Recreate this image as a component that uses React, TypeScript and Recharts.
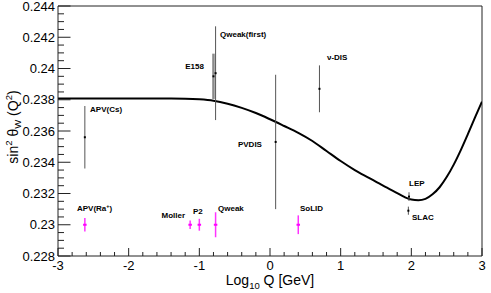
import React from "react";
import {
  ComposedChart,
  Line,
  Scatter,
  ErrorBar,
  XAxis,
  YAxis,
  ReferenceLine,
} from "recharts";

// ---------- data ----------
const curveLogQ = [-3, -2.5, -2, -1.6, -1.4, -1.2, -1.0, -0.8, -0.6, -0.4, -0.2, 0.0, 0.2, 0.4, 0.6, 0.8, 1.0, 1.2, 1.4, 1.6, 1.8, 1.9, 2.0, 2.1, 2.2, 2.3, 2.4, 2.5, 2.6, 2.7, 2.8, 2.9, 3.0];
const curveSin2 = [0.23808, 0.23808, 0.23808, 0.23808, 0.23808, 0.23807, 0.23803, 0.23794, 0.23775, 0.23748, 0.23715, 0.23675, 0.23632, 0.23588, 0.23536, 0.23472, 0.23408, 0.2335, 0.233, 0.2325, 0.23202, 0.23178, 0.23161, 0.23157, 0.23166, 0.23195, 0.2324, 0.23305, 0.23385, 0.23478, 0.2358, 0.23685, 0.23788];

const measuredNames = ["APV(Cs)", "Qweak(first)", "PVDIS", "ν-DIS", "LEP", "SLAC"];
const measuredLogQ = [-2.62, -0.77, 0.08, 0.7, 1.967, 1.958];
const measuredSin2 = [0.2356, 0.2397, 0.2353, 0.2387, 0.2318, 0.2309];
const measuredErr = [0.002, 0.003, 0.0043, 0.0015, 0.00028, 0.00026];

const e158Names = ["E158"];
const e158LogQ = [-0.8];
const e158Sin2 = [0.2395];
const e158Err = [0.00145];

const futureNames = ["APV(Ra+)", "Moller", "P2", "Qweak", "SoLID"];
const futureLogQ = [-2.62, -1.13, -1.0, -0.77, 0.4];
const futureSin2 = [0.23, 0.23, 0.23, 0.23, 0.23];
const futureErr = [0.00043, 0.00027, 0.00038, 0.0008, 0.0006];

const xMajorTicks = [-3, -2, -1, 0, 1, 2, 3];
const xMinorTicks = [-2.8, -2.6, -2.4, -2.2, -1.8, -1.6, -1.4, -1.2, -0.8, -0.6, -0.4, -0.2, 0.2, 0.4, 0.6, 0.8, 1.2, 1.4, 1.6, 1.8, 2.2, 2.4, 2.6, 2.8];
const yMajorTicks = [0.228, 0.23, 0.232, 0.234, 0.236, 0.238, 0.24, 0.242, 0.244];
const yMinorTicks = [0.2285, 0.229, 0.2295, 0.2305, 0.231, 0.2315, 0.2325, 0.233, 0.2335, 0.2345, 0.235, 0.2355, 0.2365, 0.237, 0.2375, 0.2385, 0.239, 0.2395, 0.2405, 0.241, 0.2415, 0.2425, 0.243, 0.2435];

// ---------- build tables ----------
const curveData = curveLogQ.map((x, i) => ({ x, y: curveSin2[i] }));
const build = (names: string[], xs: number[], ys: number[], es: number[]) =>
  names.map((name, i) => ({ name, x: xs[i], y: ys[i], err: es[i] }));
const measuredData = build(measuredNames, measuredLogQ, measuredSin2, measuredErr);
const e158Data = build(e158Names, e158LogQ, e158Sin2, e158Err);
const futureData = build(futureNames, futureLogQ, futureSin2, futureErr);

// ---------- styles ----------
const FONT = "'Liberation Sans', Arial, Helvetica, sans-serif";
const labelOffsets: Record<string, { dx: number; dy: number; anchor: "start" | "end" }> = {
  "APV(Cs)": { dx: 5.2, dy: -25.3, anchor: "start" },
  "Qweak(first)": { dx: 4.4, dy: -36.3, anchor: "start" },
  PVDIS: { dx: -13.7, dy: 5.3, anchor: "end" },
  "ν-DIS": { dx: 7.5, dy: -29.2, anchor: "start" },
  LEP: { dx: 0, dy: -10.4, anchor: "start" },
  SLAC: { dx: 3.6, dy: 9.5, anchor: "start" },
  E158: { dx: -9.5, dy: -7.4, anchor: "end" },
  "APV(Ra+)": { dx: -7.9, dy: -14.2, anchor: "start" },
  Moller: { dx: -5.1, dy: -6.9, anchor: "end" },
  P2: { dx: -6.3, dy: -10.9, anchor: "start" },
  Qweak: { dx: 2.4, dy: -13.6, anchor: "start" },
  SoLID: { dx: 1.7, dy: -13.6, anchor: "start" },
};

const renderLabelText = (name: string) => {
  if (name === "APV(Ra+)") {
    return (
      <>
        APV(Ra
        <tspan dy={-3} fontSize={5.5}>+</tspan>
        <tspan dy={3}>)</tspan>
      </>
    );
  }
  return name;
};

const makeShape = (color: string, w: number, h: number) => (props: any) => {
  const { cx, cy, payload } = props;
  if (cx == null || cy == null) return null;
  const off = labelOffsets[payload.name] || { dx: 4, dy: -6, anchor: "start" };
  return (
    <g>
      <rect x={cx - w / 2} y={cy - h / 2} width={w} height={h} fill={color} />
      <text
        x={cx + off.dx}
        y={cy + off.dy}
        textAnchor={off.anchor}
        fontFamily={FONT}
        fontWeight="bold"
        fontSize={8}
        fill="#000"
      >
        {renderLabelText(payload.name)}
      </text>
    </g>
  );
};

const yMajorSet = new Set(yMajorTicks.map((v) => v.toFixed(4)));
const xMajorSet = new Set(xMajorTicks.map((v) => v.toFixed(1)));

const YTick = (props: any) => {
  const { x, y, payload } = props;
  const major = yMajorSet.has(Number(payload.value).toFixed(4));
  return (
    <g>
      <line x1={x} x2={x + (major ? 12.5 : 6)} y1={y} y2={y} stroke="#222" strokeWidth={1} />
      {major && (
        <text x={x - 3} y={y + 4.6} textAnchor="end" fontFamily={FONT} fontSize={13} fill="#000">
          {String(payload.value)}
        </text>
      )}
    </g>
  );
};

const XTick = (props: any) => {
  const { x, y, payload } = props;
  const major = xMajorSet.has(Number(payload.value).toFixed(1));
  return (
    <g>
      <line x1={x} x2={x} y1={y} y2={y - (major ? 8 : 4)} stroke="#222" strokeWidth={1} />
      {major && (
        <text x={x} y={y + 13.5} textAnchor="middle" fontFamily={FONT} fontSize={13} fill="#000">
          {String(payload.value)}
        </text>
      )}
    </g>
  );
};

const XTitle = (props: any) => {
  const vb = props.viewBox || { x: 58, y: 256, width: 424, height: 37 };
  return (
    <text x={vb.x + vb.width / 2} y={vb.y + 29} textAnchor="middle" fontFamily={FONT} fontSize={14} fill="#000">
      Log
      <tspan dy={4} fontSize={9.5}>10</tspan>
      <tspan dy={-4}> Q [GeV]</tspan>
    </text>
  );
};

const YTitle = (props: any) => {
  const vb = props.viewBox || { x: 0, y: 6, width: 58, height: 250 };
  const cx = vb.x + 13;
  const cy = vb.y + vb.height / 2 - 4;
  return (
    <text
      x={cx}
      y={cy}
      transform={`rotate(-90 ${cx} ${cy})`}
      textAnchor="middle"
      dominantBaseline="central"
      fontFamily={FONT}
      fontSize={14}
      fill="#000"
    >
      sin
      <tspan dy={-5} fontSize={9.5}>2</tspan>
      <tspan dy={5}> θ</tspan>
      <tspan dy={3.5} fontSize={9.5}>W</tspan>
      <tspan dy={-3.5}> (Q</tspan>
      <tspan dy={-5} fontSize={9.5}>2</tspan>
      <tspan dy={5}>)</tspan>
    </text>
  );
};

export default function App() {
  return (
    <div style={{ position: "absolute", left: 0, top: 0, background: "#fff" }}>
      <ComposedChart
        width={491}
        height={293}
        margin={{ top: 6, right: 9, bottom: 0, left: 0 }}
      >
        <XAxis
          type="number"
          dataKey="x"
          domain={[-3, 3]}
          allowDataOverflow
          ticks={[...xMajorTicks, ...xMinorTicks]}
          interval={0}
          tickSize={0}
          tickMargin={0}
          tickLine={false}
          tick={<XTick />}
          axisLine={{ stroke: "#222", strokeWidth: 1 }}
          height={37}
          label={<XTitle />}
        />
        <YAxis
          type="number"
          dataKey="y"
          domain={[0.228, 0.244]}
          allowDataOverflow
          ticks={[...yMajorTicks, ...yMinorTicks]}
          interval={0}
          tickSize={0}
          tickMargin={0}
          tickLine={false}
          tick={<YTick />}
          axisLine={{ stroke: "#222", strokeWidth: 1 }}
          width={58}
          label={<YTitle />}
        />
        <ReferenceLine y={0.244} stroke="#222" strokeWidth={1} ifOverflow="extendDomain" />
        <ReferenceLine x={3} stroke="#222" strokeWidth={1} ifOverflow="extendDomain" />
        <Line
          data={curveData}
          dataKey="y"
          type="monotone"
          stroke="#000"
          strokeWidth={2}
          dot={false}
          isAnimationActive={false}
        />
        <Scatter data={e158Data} dataKey="y" shape={makeShape("#000", 2, 2)} isAnimationActive={false}>
          <ErrorBar dataKey="err" direction="y" width={0} stroke="#8a8a8a" strokeWidth={2.5} />
        </Scatter>
        <Scatter data={measuredData} dataKey="y" shape={makeShape("#000", 2, 2)} isAnimationActive={false}>
          <ErrorBar dataKey="err" direction="y" width={0} stroke="#555" strokeWidth={1} />
        </Scatter>
        <Scatter data={futureData} dataKey="y" shape={makeShape("#ff00ff", 3.5, 2)} isAnimationActive={false}>
          <ErrorBar dataKey="err" direction="y" width={0} stroke="#ff33ff" strokeWidth={1.5} />
        </Scatter>
      </ComposedChart>
    </div>
  );
}
